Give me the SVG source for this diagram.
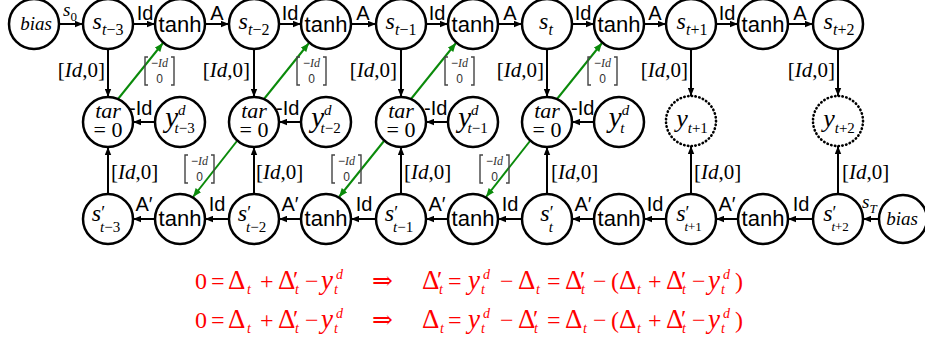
<svg xmlns="http://www.w3.org/2000/svg" width="925" height="343" viewBox="0 0 925 343">
<style>
.n{fill:#fff;stroke:#000;stroke-width:2.5}
.dt{fill:#fff;stroke:#000;stroke-width:2.6;stroke-dasharray:0.4 3.4;stroke-linecap:round}
.c{fill:none;stroke:#000;stroke-width:2;marker-end:url(#ah)}
.g{fill:none;stroke:#0a8a0a;stroke-width:2;marker-end:url(#gh)}
.sans{font-family:"Liberation Sans",Arial,sans-serif}
.ser{font-family:"Liberation Serif","Times New Roman",serif}
.it{font-style:italic}
.th{font-family:"Liberation Sans",Arial,sans-serif;font-size:22px;text-anchor:middle}
.lb{font-family:"Liberation Sans",Arial,sans-serif;font-size:20px;text-anchor:middle}
.br{fill:none;stroke:#444;stroke-width:1.4}
.mt{fill:#333;text-anchor:middle}
.eq{font-family:"Liberation Serif","Times New Roman",serif;font-size:24px;fill:#ff0000}
.eq .s{font-size:14px;font-style:italic}
.eq .D{font-size:27px}
.eq .Y{font-size:27px;font-style:italic}
.eq .A{font-family:"DejaVu Serif",serif;font-size:25px}
</style>
<defs>
<marker id="ah" viewBox="0 0 10 8" refX="10" refY="4" markerWidth="8" markerHeight="7" markerUnits="userSpaceOnUse" orient="auto"><path d="M0,0 L10,4 L0,8 z" fill="#000"/></marker>
<marker id="gh" viewBox="0 0 10 8" refX="10" refY="4" markerWidth="9" markerHeight="7" markerUnits="userSpaceOnUse" orient="auto"><path d="M0,0 L10,4 L0,8 z" fill="#0a8a0a"/></marker>
<g id="mtx"><path class="br" d="M3,0 H0 V28 H3 M26,0 H29 V28 H26"/><text class="mt" x="14.5" y="10" font-size="12"><tspan class="sans">−</tspan><tspan class="ser it">Id</tspan></text><text class="mt sans" x="14.5" y="25.5" font-size="12">0</text></g>
</defs>

<g id="connectors">
<line class="c" x1="59" y1="24" x2="83" y2="24"/>
<line class="c" x1="133" y1="24" x2="155" y2="24"/>
<line class="c" x1="205" y1="24" x2="229" y2="24"/>
<line class="c" x1="279" y1="24" x2="301" y2="24"/>
<line class="c" x1="351" y1="24" x2="376" y2="24"/>
<line class="c" x1="426" y1="24" x2="448" y2="24"/>
<line class="c" x1="498" y1="24" x2="522" y2="24"/>
<line class="c" x1="572" y1="24" x2="594" y2="24"/>
<line class="c" x1="644" y1="24" x2="666" y2="24"/>
<line class="c" x1="716" y1="24" x2="738" y2="24"/>
<line class="c" x1="788" y1="24" x2="813" y2="24"/>
<line class="c" x1="108" y1="49" x2="108" y2="97"/>
<line class="c" x1="254" y1="49" x2="254" y2="97"/>
<line class="c" x1="401" y1="49" x2="401" y2="97"/>
<line class="c" x1="547" y1="49" x2="547" y2="97"/>
<line class="c" x1="691" y1="49" x2="691" y2="96"/>
<line class="c" x1="838" y1="49" x2="838" y2="96"/>
<line class="c" x1="155" y1="122" x2="133" y2="122"/>
<line class="c" x1="301" y1="122" x2="279" y2="122"/>
<line class="c" x1="448" y1="122" x2="426" y2="122"/>
<line class="c" x1="594" y1="122" x2="572" y2="122"/>
<line class="c" x1="108" y1="194" x2="108" y2="147"/>
<line class="c" x1="254" y1="194" x2="254" y2="147"/>
<line class="c" x1="401" y1="194" x2="401" y2="147"/>
<line class="c" x1="547" y1="194" x2="547" y2="147"/>
<line class="c" x1="691" y1="194" x2="691" y2="146"/>
<line class="c" x1="838" y1="194" x2="838" y2="146"/>
<line class="c" x1="879" y1="219" x2="863" y2="219"/>
<line class="c" x1="813" y1="219" x2="788" y2="219"/>
<line class="c" x1="738" y1="219" x2="716" y2="219"/>
<line class="c" x1="666" y1="219" x2="644" y2="219"/>
<line class="c" x1="594" y1="219" x2="572" y2="219"/>
<line class="c" x1="522" y1="219" x2="498" y2="219"/>
<line class="c" x1="448" y1="219" x2="426" y2="219"/>
<line class="c" x1="376" y1="219" x2="351" y2="219"/>
<line class="c" x1="301" y1="219" x2="279" y2="219"/>
<line class="c" x1="229" y1="219" x2="205" y2="219"/>
<line class="c" x1="155" y1="219" x2="133" y2="219"/>
<line class="g" x1="118" y1="99" x2="163" y2="43"/>
<line class="g" x1="264" y1="99" x2="309" y2="43"/>
<line class="g" x1="411" y1="99" x2="456" y2="43"/>
<line class="g" x1="557" y1="99" x2="602" y2="43"/>
<line class="g" x1="237" y1="141" x2="193" y2="197"/>
<line class="g" x1="384" y1="141" x2="339" y2="197"/>
<line class="g" x1="530" y1="141" x2="486" y2="197"/>
<text class="ser" x="63" y="16"><tspan class="it" font-size="19">s</tspan><tspan font-size="13" dy="5">0</tspan></text>
<text class="lb" x="145" y="20">Id</text>
<text class="lb" x="217" y="20">A</text>
<text class="lb" x="290" y="20">Id</text>
<text class="lb" x="363" y="20">A</text>
<text class="lb" x="437" y="20">Id</text>
<text class="lb" x="510" y="20">A</text>
<text class="lb" x="583" y="20">Id</text>
<text class="lb" x="655" y="20">A</text>
<text class="lb" x="727" y="20">Id</text>
<text class="lb" x="800" y="20">A</text>
<g class="ser" font-size="21" text-anchor="end">
<text x="105" y="77">[<tspan class="it">Id</tspan>,0]</text>
<text x="250" y="77">[<tspan class="it">Id</tspan>,0]</text>
<text x="397" y="77">[<tspan class="it">Id</tspan>,0]</text>
<text x="544" y="77">[<tspan class="it">Id</tspan>,0]</text>
<text x="688" y="77">[<tspan class="it">Id</tspan>,0]</text>
<text x="835" y="77">[<tspan class="it">Id</tspan>,0]</text>
</g>
<g class="ser" font-size="21">
<text x="111" y="179">[<tspan class="it">Id</tspan>,0]</text>
<text x="256" y="179">[<tspan class="it">Id</tspan>,0]</text>
<text x="404" y="179">[<tspan class="it">Id</tspan>,0]</text>
<text x="551" y="179">[<tspan class="it">Id</tspan>,0]</text>
<text x="694" y="179">[<tspan class="it">Id</tspan>,0]</text>
<text x="842" y="179">[<tspan class="it">Id</tspan>,0]</text>
</g>
<g class="sans" font-size="20">
<text x="129" y="115">-Id</text>
<text x="276" y="115">-Id</text>
<text x="424" y="115">-Id</text>
<text x="571" y="115">-Id</text>
</g>
<text class="ser" x="862" y="208"><tspan class="it" font-size="19">s</tspan><tspan class="it" font-size="13" dy="5">T</tspan></text>
<text class="lb" x="801" y="211">Id</text>
<text class="lb" x="727" y="211">A′</text>
<text class="lb" x="655" y="211">Id</text>
<text class="lb" x="583" y="211">A′</text>
<text class="lb" x="510" y="211">Id</text>
<text class="lb" x="437" y="211">A′</text>
<text class="lb" x="364" y="211">Id</text>
<text class="lb" x="290" y="211">A′</text>
<text class="lb" x="217" y="211">Id</text>
<text class="lb" x="144" y="211">A′</text>
<use href="#mtx" x="145" y="57"/>
<use href="#mtx" x="297" y="57"/>
<use href="#mtx" x="445" y="57"/>
<use href="#mtx" x="588" y="57"/>
<use href="#mtx" x="185" y="155"/>
<use href="#mtx" x="332" y="155"/>
<use href="#mtx" x="480" y="155"/>
</g>

<g id="n-bias-top"><circle class="n" cx="34" cy="24" r="25"/><text class="ser it" x="36" y="30" font-size="19" text-anchor="middle">bias</text></g>
<g id="n-s-t3"><circle class="n" cx="108" cy="24" r="25"/><text class="ser" x="108" y="29" text-anchor="middle"><tspan class="it" font-size="24">s</tspan><tspan font-size="16" dy="6"><tspan class="it">t</tspan>−3</tspan></text></g>
<g id="n-tanh-t1"><circle class="n" cx="180" cy="24" r="25"/><text class="th" x="180" y="32">tanh</text></g>
<g id="n-s-t2"><circle class="n" cx="254" cy="24" r="25"/><text class="ser" x="254" y="29" text-anchor="middle"><tspan class="it" font-size="24">s</tspan><tspan font-size="16" dy="6"><tspan class="it">t</tspan>−2</tspan></text></g>
<g id="n-tanh-t2"><circle class="n" cx="326" cy="24" r="25"/><text class="th" x="326" y="32">tanh</text></g>
<g id="n-s-t1"><circle class="n" cx="401" cy="24" r="25"/><text class="ser" x="401" y="29" text-anchor="middle"><tspan class="it" font-size="24">s</tspan><tspan font-size="16" dy="6"><tspan class="it">t</tspan>−1</tspan></text></g>
<g id="n-tanh-t3"><circle class="n" cx="473" cy="24" r="25"/><text class="th" x="473" y="32">tanh</text></g>
<g id="n-s-t"><circle class="n" cx="547" cy="24" r="25"/><text class="ser it" x="546" y="29" text-anchor="middle"><tspan font-size="24">s</tspan><tspan font-size="16" dy="6">t</tspan></text></g>
<g id="n-tanh-t4"><circle class="n" cx="619" cy="24" r="25"/><text class="th" x="619" y="32">tanh</text></g>
<g id="n-s-tp1"><circle class="n" cx="691" cy="24" r="25"/><text class="ser" x="692" y="29" text-anchor="middle"><tspan class="it" font-size="24">s</tspan><tspan font-size="16" dy="6"><tspan class="it">t</tspan>+1</tspan></text></g>
<g id="n-tanh-t5"><circle class="n" cx="763" cy="24" r="25"/><text class="th" x="763" y="32">tanh</text></g>
<g id="n-s-tp2"><circle class="n" cx="838" cy="24" r="25"/><text class="ser" x="839" y="29" text-anchor="middle"><tspan class="it" font-size="24">s</tspan><tspan font-size="16" dy="6"><tspan class="it">t</tspan>+2</tspan></text></g>

<g id="n-tar-t3"><circle class="n" cx="108" cy="122" r="25"/><text class="ser" x="108" y="118" font-size="22" text-anchor="middle"><tspan class="it">tar</tspan><tspan x="108" y="137">= 0</tspan></text></g>
<g id="n-yd-t3"><circle class="n" cx="180" cy="122" r="25"/><text class="ser" x="180" y="127" text-anchor="middle"><tspan class="it" font-size="29">y</tspan><tspan class="it" font-size="15" dy="-12">d</tspan><tspan font-size="15" dx="-11" dy="18"><tspan class="it">t</tspan>−3</tspan></text></g>
<g id="n-tar-t2"><circle class="n" cx="254" cy="122" r="25"/><text class="ser" x="254" y="118" font-size="22" text-anchor="middle"><tspan class="it">tar</tspan><tspan x="254" y="137">= 0</tspan></text></g>
<g id="n-yd-t2"><circle class="n" cx="326" cy="122" r="25"/><text class="ser" x="326" y="127" text-anchor="middle"><tspan class="it" font-size="29">y</tspan><tspan class="it" font-size="15" dy="-12">d</tspan><tspan font-size="15" dx="-11" dy="18"><tspan class="it">t</tspan>−2</tspan></text></g>
<g id="n-tar-t1"><circle class="n" cx="401" cy="122" r="25"/><text class="ser" x="401" y="118" font-size="22" text-anchor="middle"><tspan class="it">tar</tspan><tspan x="401" y="137">= 0</tspan></text></g>
<g id="n-yd-t1"><circle class="n" cx="473" cy="122" r="25"/><text class="ser" x="473" y="127" text-anchor="middle"><tspan class="it" font-size="29">y</tspan><tspan class="it" font-size="15" dy="-12">d</tspan><tspan font-size="15" dx="-11" dy="18"><tspan class="it">t</tspan>−1</tspan></text></g>
<g id="n-tar-t"><circle class="n" cx="547" cy="122" r="25"/><text class="ser" x="547" y="118" font-size="22" text-anchor="middle"><tspan class="it">tar</tspan><tspan x="547" y="137">= 0</tspan></text></g>
<g id="n-yd-t"><circle class="n" cx="619" cy="122" r="25"/><text class="ser it" x="619" y="127" text-anchor="middle"><tspan font-size="29">y</tspan><tspan font-size="15" dy="-12">d</tspan><tspan font-size="15" dx="-9" dy="18">t</tspan></text></g>
<g id="n-y-tp1"><circle class="dt" cx="691" cy="121" r="25"/><text class="ser" x="692" y="127" text-anchor="middle"><tspan class="it" font-size="26">y</tspan><tspan font-size="15" dy="6"><tspan class="it">t</tspan>+1</tspan></text></g>
<g id="n-y-tp2"><circle class="dt" cx="838" cy="121" r="25"/><text class="ser" x="839" y="127" text-anchor="middle"><tspan class="it" font-size="26">y</tspan><tspan font-size="15" dy="6"><tspan class="it">t</tspan>+2</tspan></text></g>

<g id="n-sp-t3"><circle class="n" cx="108" cy="219" r="25"/><text class="ser" x="106" y="221" text-anchor="middle"><tspan class="it" font-size="24">s</tspan><tspan font-size="18" dy="-2">′</tspan><tspan font-size="15" dx="-5" dy="13"><tspan class="it">t</tspan>−3</tspan></text></g>
<g id="n-tanh-b1"><circle class="n" cx="180" cy="219" r="25"/><text class="th" x="180" y="226">tanh</text></g>
<g id="n-sp-t2"><circle class="n" cx="254" cy="219" r="25"/><text class="ser" x="252" y="221" text-anchor="middle"><tspan class="it" font-size="24">s</tspan><tspan font-size="18" dy="-2">′</tspan><tspan font-size="15" dx="-5" dy="13"><tspan class="it">t</tspan>−2</tspan></text></g>
<g id="n-tanh-b2"><circle class="n" cx="326" cy="219" r="25"/><text class="th" x="326" y="226">tanh</text></g>
<g id="n-sp-t1"><circle class="n" cx="401" cy="219" r="25"/><text class="ser" x="399" y="221" text-anchor="middle"><tspan class="it" font-size="24">s</tspan><tspan font-size="18" dy="-2">′</tspan><tspan font-size="15" dx="-5" dy="13"><tspan class="it">t</tspan>−1</tspan></text></g>
<g id="n-tanh-b3"><circle class="n" cx="473" cy="219" r="25"/><text class="th" x="473" y="226">tanh</text></g>
<g id="n-sp-t"><circle class="n" cx="547" cy="219" r="25"/><text class="ser" x="547" y="221" text-anchor="middle"><tspan class="it" font-size="24">s</tspan><tspan font-size="18" dy="-2">′</tspan><tspan class="it" font-size="15" dx="-5" dy="13">t</tspan></text></g>
<g id="n-tanh-b4"><circle class="n" cx="619" cy="219" r="25"/><text class="th" x="619" y="226">tanh</text></g>
<g id="n-sp-tp1"><circle class="n" cx="691" cy="219" r="25"/><text class="ser" x="689" y="221" text-anchor="middle"><tspan class="it" font-size="24">s</tspan><tspan font-size="18" dy="-2">′</tspan><tspan font-size="13" dx="-5" dy="12"><tspan class="it">t</tspan>+1</tspan></text></g>
<g id="n-tanh-b5"><circle class="n" cx="763" cy="219" r="25"/><text class="th" x="763" y="226">tanh</text></g>
<g id="n-sp-tp2"><circle class="n" cx="838" cy="219" r="25"/><text class="ser" x="836" y="221" text-anchor="middle"><tspan class="it" font-size="24">s</tspan><tspan font-size="18" dy="-2">′</tspan><tspan font-size="13" dx="-5" dy="12"><tspan class="it">t</tspan>+2</tspan></text></g>
<g id="n-bias-bot"><circle class="n" cx="903" cy="219" r="24"/><text class="ser it" x="902" y="225" font-size="19" text-anchor="middle">bias</text></g>

<g id="equations" class="eq">
<text><tspan x="195" y="289">0</tspan><tspan x="211" y="289">=</tspan><tspan class="D" x="228" y="289">Δ</tspan><tspan class="s" x="247" y="294">t</tspan><tspan x="260" y="289">+</tspan><tspan class="D" x="278" y="289">Δ</tspan><tspan x="293" y="287">′</tspan><tspan class="s" x="295" y="294">t</tspan><tspan x="305" y="289">−</tspan><tspan class="Y" x="321" y="289">y</tspan><tspan class="s" x="336" y="279">d</tspan><tspan class="s" x="334" y="294">t</tspan><tspan class="A" x="372" y="289">⇒</tspan><tspan class="D" x="422" y="289">Δ</tspan><tspan x="437" y="287">′</tspan><tspan class="s" x="439" y="294">t</tspan><tspan x="448" y="289">=</tspan><tspan class="Y" x="468" y="289">y</tspan><tspan class="s" x="483" y="279">d</tspan><tspan class="s" x="481" y="294">t</tspan><tspan x="500" y="289">−</tspan><tspan class="D" x="518" y="289">Δ</tspan><tspan class="s" x="536" y="294">t</tspan><tspan x="547" y="289">=</tspan><tspan class="D" x="565" y="289">Δ</tspan><tspan x="580" y="287">′</tspan><tspan class="s" x="581" y="294">t</tspan><tspan x="593" y="289">−</tspan><tspan x="611" y="289">(</tspan><tspan class="D" x="619" y="289">Δ</tspan><tspan class="s" x="637" y="294">t</tspan><tspan x="648" y="289">+</tspan><tspan class="D" x="666" y="289">Δ</tspan><tspan x="681" y="287">′</tspan><tspan class="s" x="682" y="294">t</tspan><tspan x="692" y="289">−</tspan><tspan class="Y" x="708" y="289">y</tspan><tspan class="s" x="723" y="279">d</tspan><tspan class="s" x="721" y="294">t</tspan><tspan x="735" y="289">)</tspan></text>
<text><tspan x="195" y="328">0</tspan><tspan x="211" y="328">=</tspan><tspan class="D" x="228" y="328">Δ</tspan><tspan class="s" x="247" y="333">t</tspan><tspan x="260" y="328">+</tspan><tspan class="D" x="278" y="328">Δ</tspan><tspan x="293" y="326">′</tspan><tspan class="s" x="295" y="333">t</tspan><tspan x="305" y="328">−</tspan><tspan class="Y" x="321" y="328">y</tspan><tspan class="s" x="336" y="318">d</tspan><tspan class="s" x="334" y="333">t</tspan><tspan class="A" x="372" y="328">⇒</tspan><tspan class="D" x="422" y="328">Δ</tspan><tspan class="s" x="440" y="333">t</tspan><tspan x="448" y="328">=</tspan><tspan class="Y" x="468" y="328">y</tspan><tspan class="s" x="483" y="318">d</tspan><tspan class="s" x="481" y="333">t</tspan><tspan x="500" y="328">−</tspan><tspan class="D" x="518" y="328">Δ</tspan><tspan x="533" y="326">′</tspan><tspan class="s" x="534" y="333">t</tspan><tspan x="547" y="328">=</tspan><tspan class="D" x="565" y="328">Δ</tspan><tspan class="s" x="583" y="333">t</tspan><tspan x="593" y="328">−</tspan><tspan x="611" y="328">(</tspan><tspan class="D" x="619" y="328">Δ</tspan><tspan class="s" x="637" y="333">t</tspan><tspan x="648" y="328">+</tspan><tspan class="D" x="666" y="328">Δ</tspan><tspan x="681" y="326">′</tspan><tspan class="s" x="682" y="333">t</tspan><tspan x="692" y="328">−</tspan><tspan class="Y" x="708" y="328">y</tspan><tspan class="s" x="723" y="318">d</tspan><tspan class="s" x="721" y="333">t</tspan><tspan x="735" y="328">)</tspan></text>
</g>
</svg>
